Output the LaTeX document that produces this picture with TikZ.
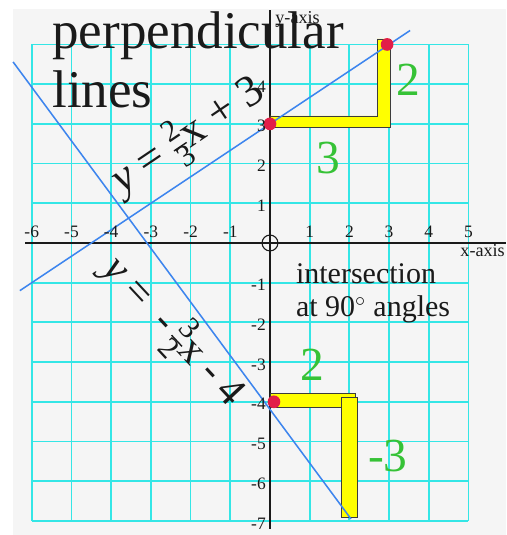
\documentclass[tikz,border=0pt]{standalone}
\usepackage{amsmath}
\usepackage{fontspec}
\setmainfont{Liberation Serif}
\usepackage{tikz}
\usetikzlibrary{positioning,calc}
\definecolor{gridcyan}{HTML}{34E6E6}
\definecolor{lineblue}{HTML}{3D85EE}
\definecolor{green}{HTML}{36C236}
\definecolor{yellow}{HTML}{FFFF00}
\definecolor{red}{HTML}{E21E48}
\definecolor{paper}{HTML}{F5F5F5}
\definecolor{ink}{HTML}{1A1A1A}
\newcommand{\stackfrac}[2]{{\fontsize{22}{22}\selectfont\setlength{\arrayrulewidth}{1pt}\renewcommand{\arraystretch}{0.85}\begin{tabular}[c]{@{}c@{}}#1\\\hline #2\end{tabular}}}

\begin{document}
\begin{tikzpicture}[
  gridline/.style={gridcyan,line width=1.3pt},
  eqline/.style={lineblue,line width=1.1pt},
  legbar/.style={fill=yellow,draw=ink!85,line width=0.5pt},
  dot/.style={circle,fill=red,inner sep=0pt,minimum size=0.32cm},
  ticklab/.style={font=\fontsize{12.5}{14}\selectfont,inner sep=0pt},
  runlab/.style={green,font=\fontsize{34}{36}\selectfont,inner sep=0pt},
  axisname/.style={anchor=base west,font=\fontsize{13}{14}\selectfont,inner sep=0pt}]
\color{ink}
\useasboundingbox (-6.80,-7.355) rectangle (5.945,6.12);
\fill[paper] (-6.47,-7.355) rectangle (5.945,5.89);
% grid, one square per unit
\foreach \x in {-6,...,5} \draw[gridline] (\x,-7) -- (\x,5);
\foreach \y in {-7,...,5} \draw[gridline] (-6,\y) -- (5,\y);
% axes
\draw[ink,line width=0.8pt] (-6.17,0) -- (5.945,0);
\draw[ink,line width=0.8pt] (0,-7.2) -- (0,5.87);
\draw[ink,line width=0.8pt] (0,0) circle (0.2);
% rise and run bars
\draw[legbar] (0,2.9) -- (3.02,2.9) -- (3.02,5.14) -- (2.7,5.14) -- (2.7,3.2) -- (0,3.2) -- cycle;
\draw[legbar] (0,-3.78) rectangle (2.14,-4.13);
\draw[legbar] (1.79,-3.9) rectangle (2.19,-6.9);
% the two lines
\draw[eqline] (-6.3,-1.2) -- (3.53,5.353);
\draw[eqline] (-6.47,4.56) -- (2.04,-6.95);
\node[dot] (upA) at (0,3) {};
\node[dot] (upB) at (2.95,5) {};
\node[dot] (downA) at (0.1,-4) {};
% tick labels
\foreach \x in {-6,...,-1,1,2,3,4,5}
  \node[ticklab,anchor=base] (xt\x) at (\x,0.13) {\x};
\foreach \y in {-7,...,-1,1,2,3,4}
  \node[ticklab,anchor=east] (yt\y) at (-0.1,\y-0.06) {\y};
\node[axisname] (xname) at (4.79,-0.35) {x-axis};
\node[axisname] (yname) at (0.13,5.54) {y-axis};
% NODE 1: title
\node[anchor=base west,font=\fontsize{38}{40}\selectfont,inner sep=0pt] (title) at (-5.49,4.89) {perpendicular};
\node[anchor=base west,font=\fontsize{38}{40}\selectfont,inner sep=0pt] (title2) at (-5.49,3.40) {lines};
% NODE 2: equations along the lines
\node[rotate=34,font=\fontsize{32}{34}\selectfont] (eqA) at (-2.0,2.6) {\textit{y} = \stackfrac{2}{3}x + 3};
\node[rotate=-47,font=\fontsize{30}{32}\selectfont] (eqB) at (-2.5,-2.3) {\textit{y} = \ -\,\stackfrac{3}{2}x - 4};
% NODE 3: rise / run numbers
\node[runlab] (riseA) at (3.48,4.11) {2};
\node[runlab] (runA) at (1.46,2.14) {3};
\node[runlab] (runB) at (1.08,-3.07) {2};
\node[runlab] (riseB) at (2.97,-5.37) {-3};
% NODE 4: note
\node[anchor=base west,font=\fontsize{21.5}{24}\selectfont,inner sep=0pt] (note) at (0.65,-1.01) {intersection};
\node[anchor=base west,font=\fontsize{21.5}{24}\selectfont,inner sep=0pt] (note2) at (0.65,-1.86) {at 90$^\circ$ angles};
\end{tikzpicture}
\end{document}
